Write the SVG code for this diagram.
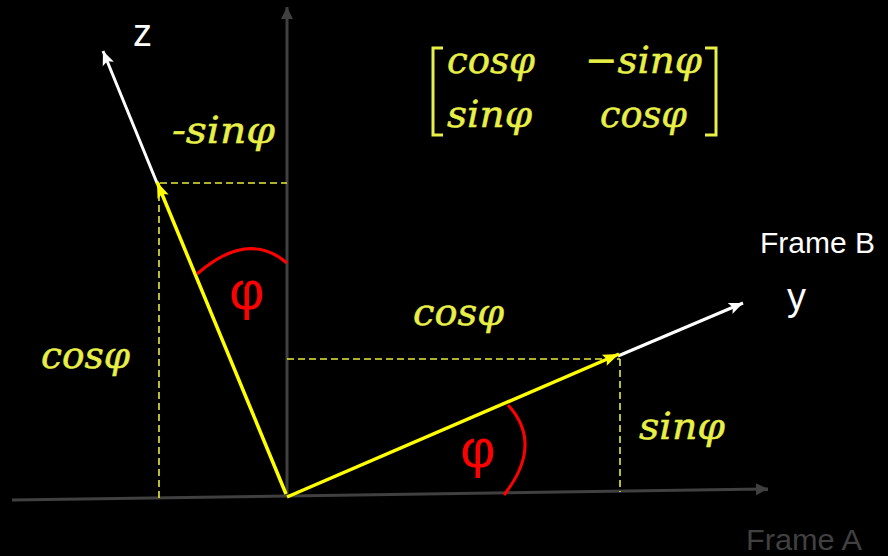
<svg xmlns="http://www.w3.org/2000/svg" width="888" height="556" viewBox="0 0 888 556">
<style>
.axisA{stroke:#404040;stroke-width:3;fill:none}
.vec{stroke:#ffff00;stroke-width:3.5;fill:none}
.axisB{stroke:#ffffff;stroke-width:3;fill:none}
.dash{stroke:#e6ec3c;stroke-width:1.6;stroke-dasharray:7 4;fill:none}
.arc{stroke:#ff0000;stroke-width:3;fill:none}
.math{font-family:"DejaVu Serif",serif;font-style:italic;font-size:38px;fill:#e8f048;stroke:#e8f048;stroke-width:0.5}
.phi{font-family:"Liberation Sans",Arial,sans-serif;font-size:54px;fill:#ff0000;text-anchor:middle}
.lbl{font-family:"Liberation Sans",Arial,sans-serif;fill:#ffffff}
</style>
<defs>
<marker id="aGray" markerUnits="userSpaceOnUse" markerWidth="16" markerHeight="16" viewBox="0 0 16 16" refX="14" refY="8" orient="auto"><path d="M2,2 L14,8 L2,14 Z" fill="#404040"/></marker>
<marker id="aWhite" markerUnits="userSpaceOnUse" markerWidth="16" markerHeight="16" viewBox="0 0 16 16" refX="15" refY="8" orient="auto"><path d="M1,2 L15,8 L1,14 L4,8 Z" fill="#ffffff"/></marker>
<marker id="aYellow" markerUnits="userSpaceOnUse" markerWidth="18" markerHeight="18" viewBox="0 0 18 18" refX="17" refY="9" orient="auto"><path d="M1,3 L17,9 L1,15 L4,9 Z" fill="#ffff00"/></marker>
</defs>
<rect width="888" height="556" fill="#000000"/>

<g id="frameA">
<line class="axisA" x1="12" y1="500" x2="768" y2="489" marker-end="url(#aGray)"/>
<line class="axisA" x1="287" y1="497" x2="287" y2="7" marker-end="url(#aGray)"/>
<text class="lbl" x="746" y="550" font-size="29" style="fill:#404040" textLength="116" lengthAdjust="spacingAndGlyphs">Frame A</text>
</g>

<g id="frameB">
<line class="axisB" x1="157" y1="183" x2="103" y2="51" marker-end="url(#aWhite)"/>
<line class="axisB" x1="618" y1="356" x2="743" y2="303" marker-end="url(#aWhite)"/>
<text class="lbl" x="133" y="46" font-size="38">z</text>
<text class="lbl" x="787" y="310" font-size="38">y</text>
<text class="lbl" x="760" y="253" font-size="29" textLength="115" lengthAdjust="spacingAndGlyphs">Frame B</text>
</g>

<g id="projections">
<line class="dash" x1="160" y1="183" x2="287" y2="183"/>
<line class="dash" x1="159" y1="183" x2="159" y2="498"/>
<line class="dash" x1="287" y1="359" x2="620" y2="359"/>
<line class="dash" x1="620" y1="359" x2="620" y2="492"/>
</g>

<g id="vectors">
<line class="vec" x1="286" y1="494" x2="157" y2="182" marker-end="url(#aYellow)"/>
<line class="vec" x1="287" y1="497" x2="619" y2="354" marker-end="url(#aYellow)"/>
</g>

<g id="angles">
<path class="arc" d="M197,274 Q248,229.5 287,263"/>
<path class="arc" d="M508,405 Q544,444 504,495"/>
<text class="phi" x="247" y="309">φ</text>
<text class="phi" x="478" y="467">φ</text>
</g>

<g id="labels">
<text class="math" x="172" y="143" textLength="103" lengthAdjust="spacingAndGlyphs">-sinφ</text>
<text class="math" x="413" y="325" textLength="91" lengthAdjust="spacingAndGlyphs">cosφ</text>
<text class="math" x="41" y="368" textLength="89" lengthAdjust="spacingAndGlyphs">cosφ</text>
<text class="math" x="639" y="439" textLength="86" lengthAdjust="spacingAndGlyphs">sinφ</text>
</g>

<g id="matrix">
<path d="M443,48 L433,48 L433,135 L443,135" fill="none" stroke="#e8f048" stroke-width="3"/>
<path d="M705,48 L716,48 L716,135 L705,135" fill="none" stroke="#e8f048" stroke-width="3"/>
<text class="math" x="447" y="73" textLength="88" lengthAdjust="spacingAndGlyphs">cosφ</text>
<text class="math" x="585" y="73" textLength="117" lengthAdjust="spacingAndGlyphs">−sinφ</text>
<text class="math" x="447" y="127" textLength="85" lengthAdjust="spacingAndGlyphs">sinφ</text>
<text class="math" x="600" y="127" textLength="87" lengthAdjust="spacingAndGlyphs">cosφ</text>
</g>
</svg>
